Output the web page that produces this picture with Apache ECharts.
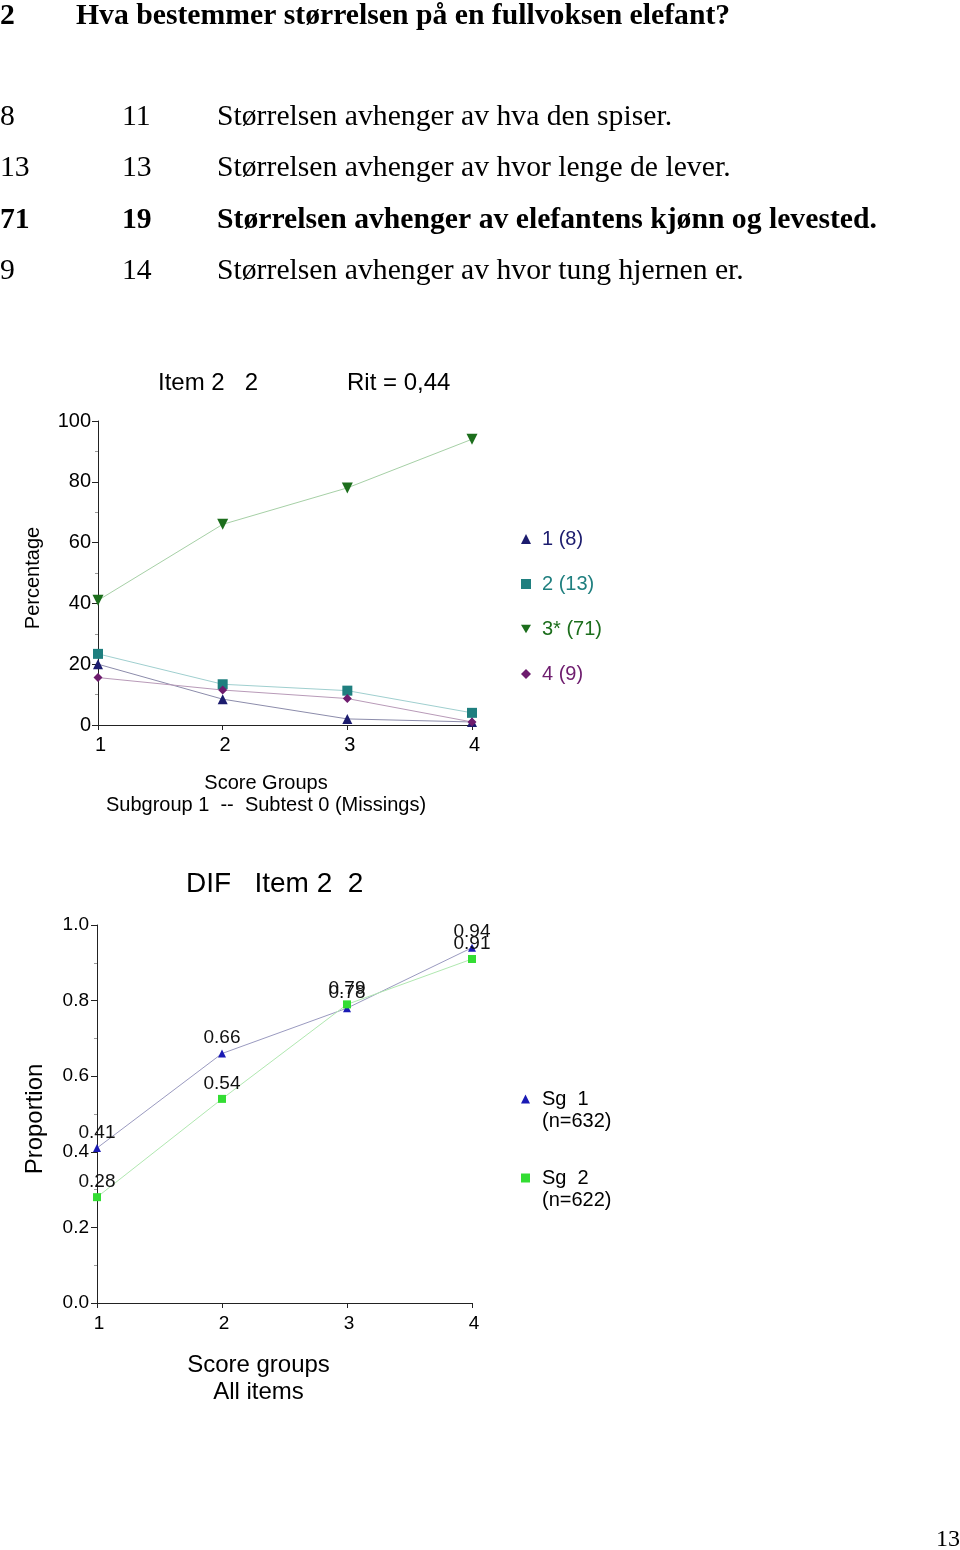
<!DOCTYPE html>
<html><head><meta charset="utf-8">
<script src="https://cdn.jsdelivr.net/npm/echarts@6/dist/echarts.min.js"></script>
<style>html,body{margin:0;padding:0;background:#fff}#c{width:960px;height:1550px}</style>
</head><body><div id="c"></div>
<script>
// ---- data ----
const scoreGroups = [1, 2, 3, 4];
const optionNames = ['1 (8)', '2 (13)', '3* (71)', '4 (9)'];
const pctOpt1 = [20, 8.5, 2, 1];
const pctOpt2 = [23.4, 13.4, 11.3, 4];
const pctOpt3 = [41, 66, 78, 94];
const pctOpt4 = [15.6, 11.5, 8.7, 1];
const difNames = ['Sg  1\n(n=632)', 'Sg  2\n(n=622)'];
const propSg1 = [0.41, 0.66, 0.78, 0.94];
const propSg2 = [0.28, 0.54, 0.79, 0.91];
const questionNo = '2';
const questionText = 'Hva bestemmer størrelsen på en fullvoksen elefant?';
const answerPct = ['8', '13', '71', '9'];
const answerNum = ['11', '13', '19', '14'];
const answerText = [
  'Størrelsen avhenger av hva den spiser.',
  'Størrelsen avhenger av hvor lenge de lever.',
  'Størrelsen avhenger av elefantens kjønn og levested.',
  'Størrelsen avhenger av hvor tung hjernen er.'
];
const correctIndex = 2;
const chart1Title = 'Item 2   2';
const chart1Rit = 'Rit = 0,44';
const chart2Title = 'DIF   Item 2  2';
const pageNo = '13';

// ---- styles ----
const SANS = 'Liberation Sans, Arial, sans-serif';
const SERIF = 'Liberation Serif, Times New Roman, serif';
const downTri = 'path://M0,0L2,0L1,1.732Z';
const optSymbols = ['triangle', 'rect', downTri, 'diamond'];
const optMarker = ['#1c1c6e', '#1f7f7f', '#1c6e1c', '#6e1c6e'];
const optLine = ['#8c8cab', '#9fcfcf', '#a6d0a6', '#b89ab8'];
const optSizes = [10, 10, 11, 9];
const difSymbols = ['triangle', 'rect'];
const difMarker = ['#1a1ab4', '#33dd33'];
const difLine = ['#9a9ac0', '#b0e8b0'];

const pz = (ys) => scoreGroups.map((x, i) => [x, ys[i]]);
const pctSeries = [pctOpt1, pctOpt2, pctOpt3, pctOpt4];
const difSeries = [propSg1, propSg2];

const TOPFONT = '29.7px ' + SERIF;
const graphics = [];
graphics.push({type: 'text', style: {x: 0, y: 16, text: questionNo, font: 'bold ' + TOPFONT, fill: '#000', verticalAlign: 'middle'}});
graphics.push({type: 'text', style: {x: 76, y: 16, text: questionText, font: 'bold ' + TOPFONT, fill: '#000', verticalAlign: 'middle'}});
const rowY = [117, 168, 220, 271];
answerText.forEach((t, i) => {
  const w = i === correctIndex ? 'bold ' : '';
  graphics.push({type: 'text', style: {x: 0, y: rowY[i], text: answerPct[i], font: w + TOPFONT, fill: '#000', verticalAlign: 'middle'}});
  graphics.push({type: 'text', style: {x: 122, y: rowY[i], text: answerNum[i], font: w + TOPFONT, fill: '#000', verticalAlign: 'middle'}});
  graphics.push({type: 'text', style: {x: 217, y: rowY[i], text: t, font: w + TOPFONT, fill: '#000', verticalAlign: 'middle'}});
});
graphics.push({type: 'text', style: {x: 158, y: 383, text: chart1Title, font: '24px ' + SANS, fill: '#000', verticalAlign: 'middle'}});
graphics.push({type: 'text', style: {x: 347, y: 383, text: chart1Rit, font: '24px ' + SANS, fill: '#000', verticalAlign: 'middle'}});
graphics.push({type: 'text', style: {x: 186, y: 884, text: chart2Title, font: '28px ' + SANS, fill: '#000', verticalAlign: 'middle'}});
graphics.push({type: 'text', style: {x: 936, y: 1540, text: pageNo, font: '24px ' + SERIF, fill: '#000', verticalAlign: 'middle'}});

const axisLine = {show: true, lineStyle: {color: '#222', width: 1}};

const option = {
  animation: false,
  backgroundColor: '#fff',
  graphic: graphics,
  grid: [
    {left: 98, top: 421, width: 374, height: 304},
    {left: 97, top: 925, width: 375, height: 378}
  ],
  xAxis: [
    {gridIndex: 0, type: 'value', min: 1, max: 4, interval: 1, axisLine, splitLine: {show: false},
     axisTick: {show: true, length: 5, lineStyle: {color: '#222'}},
     axisLabel: {fontSize: 20, fontFamily: SANS, color: '#000', margin: 10, padding: [0, 0, 0, 5]},
     name: 'Score Groups\nSubgroup 1  --  Subtest 0 (Missings)', nameLocation: 'middle', nameGap: 47,
     nameTextStyle: {fontSize: 20, fontFamily: SANS, color: '#000', lineHeight: 22, padding: [0, 38, 0, 0]}},
    {gridIndex: 1, type: 'value', min: 1, max: 4, interval: 1, axisLine, splitLine: {show: false},
     axisTick: {show: true, length: 5, lineStyle: {color: '#222'}},
     axisLabel: {fontSize: 19, fontFamily: SANS, color: '#000', margin: 11, padding: [0, 0, 0, 4]},
     name: 'Score groups\nAll items', nameLocation: 'middle', nameGap: 49,
     nameTextStyle: {fontSize: 24, fontFamily: SANS, color: '#000', lineHeight: 27, padding: [0, 52, 0, 0]}}
  ],
  yAxis: [
    {gridIndex: 0, type: 'value', min: 0, max: 100, interval: 20, axisLine, splitLine: {show: false},
     axisTick: {show: true, length: 6, lineStyle: {color: '#222'}},
     minorTick: {show: true, splitNumber: 2, length: 3, lineStyle: {color: '#999'}},
     axisLabel: {fontSize: 20, fontFamily: SANS, color: '#000', margin: 7},
     name: 'Percentage', nameLocation: 'middle', nameGap: 55,
     nameTextStyle: {fontSize: 20, fontFamily: SANS, color: '#000', padding: [0, 10, 0, 0]}},
    {gridIndex: 1, type: 'value', min: 0, max: 1, interval: 0.2, axisLine, splitLine: {show: false},
     axisTick: {show: true, length: 6, lineStyle: {color: '#222'}},
     minorTick: {show: true, splitNumber: 2, length: 3, lineStyle: {color: '#999'}},
     axisLabel: {fontSize: 19, fontFamily: SANS, color: '#000', margin: 8, formatter: v => v.toFixed(1)},
     name: 'Proportion', nameLocation: 'middle', nameGap: 50,
     nameTextStyle: {fontSize: 24, fontFamily: SANS, color: '#000', padding: [0, 10, 0, 0]}}
  ],
  legend: [
    {orient: 'vertical', left: 516, top: 524, itemWidth: 10, itemHeight: 10, itemGap: 25,
     textStyle: {fontSize: 20, fontFamily: SANS, padding: [0, 0, 0, 6]},
     data: optionNames.map((n, i) => ({name: n, icon: optSymbols[i], itemStyle: {color: optMarker[i]}, textStyle: {color: optMarker[i]}}))},
    {orient: 'vertical', left: 516, top: 1061, itemWidth: 9, itemHeight: 9, itemGap: 13,
     formatter: '\n{name}',
     textStyle: {fontSize: 20, fontFamily: SANS, color: '#000', lineHeight: 22, padding: [0, 0, 0, 7]},
     data: difNames.map((n, i) => ({name: n, icon: difSymbols[i], itemStyle: {color: difMarker[i]}}))}
  ],
  series: [
    ...pctSeries.map((ys, i) => ({
      name: optionNames[i], type: 'line', xAxisIndex: 0, yAxisIndex: 0, data: pz(ys),
      symbol: optSymbols[i], symbolSize: optSizes[i],
      itemStyle: {color: optMarker[i]}, lineStyle: {color: optLine[i], width: 1}
    })),
    ...difSeries.map((ys, i) => ({
      name: difNames[i], type: 'line', xAxisIndex: 1, yAxisIndex: 1, data: pz(ys),
      symbol: difSymbols[i], symbolSize: 8,
      itemStyle: {color: difMarker[i]}, lineStyle: {color: difLine[i], width: 1},
      label: {show: true, position: 'top', distance: 2, fontSize: 19, fontFamily: SANS, color: '#111',
              formatter: p => p.value[1].toFixed(2)}
    }))
  ]
};
const chart = echarts.init(document.getElementById('c'), null, {renderer: 'canvas'});
chart.setOption(option);
</script>
</body></html>
